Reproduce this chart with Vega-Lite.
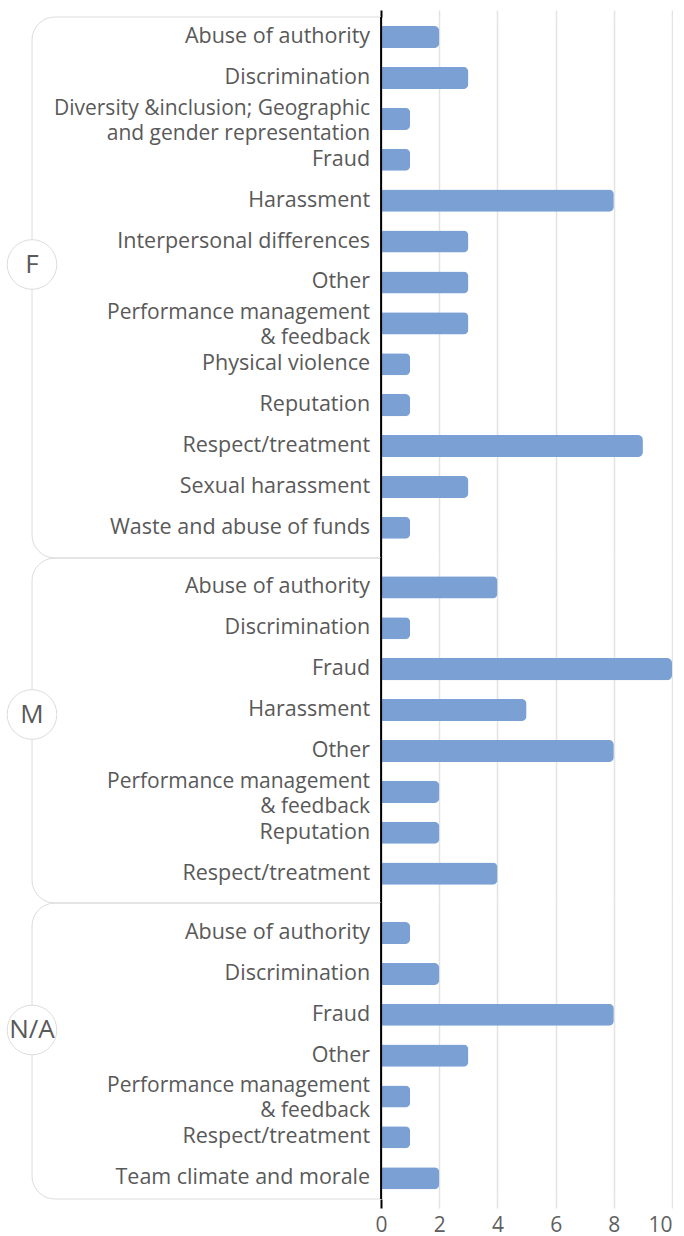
{
  "$schema": "https://vega.github.io/schema/vega-lite/v6.json",
  "padding": {"top": 9, "left": 0, "right": 0, "bottom": 0},
  "background": "white",
  "bounds": "flush",
  "config": {
    "view": {"stroke": null},
    "font": "Open Sans",
    "axis": {"gridColor": "#e3e3e3", "gridWidth": 1.5, "labelFont": "Open Sans", "labelColor": "#5f5f5f"}
  },
  "datasets": {
    "rows": [
      {"group": "F", "label": "Abuse of authority", "value": 2},
      {"group": "F", "label": "Discrimination", "value": 3},
      {"group": "F", "label": "Diversity &inclusion; Geographic\nand gender representation", "value": 1},
      {"group": "F", "label": "Fraud", "value": 1},
      {"group": "F", "label": "Harassment", "value": 8},
      {"group": "F", "label": "Interpersonal differences", "value": 3},
      {"group": "F", "label": "Other", "value": 3},
      {"group": "F", "label": "Performance management\n& feedback", "value": 3},
      {"group": "F", "label": "Physical violence", "value": 1},
      {"group": "F", "label": "Reputation", "value": 1},
      {"group": "F", "label": "Respect/treatment", "value": 9},
      {"group": "F", "label": "Sexual harassment", "value": 3},
      {"group": "F", "label": "Waste and abuse of funds", "value": 1},
      {"group": "M", "label": "Abuse of authority", "value": 4},
      {"group": "M", "label": "Discrimination", "value": 1},
      {"group": "M", "label": "Fraud", "value": 10},
      {"group": "M", "label": "Harassment", "value": 5},
      {"group": "M", "label": "Other", "value": 8},
      {"group": "M", "label": "Performance management\n& feedback", "value": 2},
      {"group": "M", "label": "Reputation", "value": 2},
      {"group": "M", "label": "Respect/treatment", "value": 4},
      {"group": "N/A", "label": "Abuse of authority", "value": 1},
      {"group": "N/A", "label": "Discrimination", "value": 2},
      {"group": "N/A", "label": "Fraud", "value": 8},
      {"group": "N/A", "label": "Other", "value": 3},
      {"group": "N/A", "label": "Performance management\n& feedback", "value": 1},
      {"group": "N/A", "label": "Respect/treatment", "value": 1},
      {"group": "N/A", "label": "Team climate and morale", "value": 2}
    ]
  },
  "spacing": 0,
  "resolve": {"scale": {"y": "independent"}},
  "vconcat": [
    {
      "width": 672,
      "height": 541,
      "layer": [
        {
          "data": {"values": [{"group": "F"}]},
          "mark": {"type": "rect", "fill": "transparent", "stroke": "#dcdcdc", "strokeWidth": 1, "cornerRadiusTopLeft": 23, "cornerRadiusBottomLeft": 23},
          "encoding": {"x": {"datum": -12, "type": "quantitative", "scale": {"domain": [-13.1, 10]}}, "x2": {"datum": 0}}
        },
        {
          "data": {"name": "rows"},
          "transform": [{"filter": "datum.group === 'F'"}],
          "mark": {"type": "bar", "color": "#7ba0d4", "cornerRadiusEnd": 5},
          "encoding": {
            "y": {"field": "label", "type": "nominal", "sort": null, "axis": null, "scale": {"paddingInner": 0.46, "paddingOuter": 0.344, "align": 0.32}},
            "x": {"field": "value", "type": "quantitative", "scale": {"domain": [-13.1, 10], "nice": false, "zero": false},
              "axis": {"orient": "top", "values": [0, 2, 4, 6, 8, 10], "labels": false, "domain": false, "ticks": true, "tickSize": 7,
                "tickColor": {"condition": {"test": "datum.value === 0", "value": "black"}, "value": "#e3e3e3"},
                "tickWidth": {"condition": {"test": "datum.value === 0", "value": 2}, "value": 1.5},
                "grid": true, "title": null}}
          }
        },
        {
          "data": {"name": "rows"},
          "transform": [{"filter": "datum.group === 'F' && indexof(datum.label, '\\n') < 0"}],
          "mark": {"type": "text", "align": "right", "baseline": "middle", "dx": -11, "fontSize": 21.5, "color": "#595959"},
          "encoding": {
            "y": {"field": "label", "type": "nominal", "sort": null},
            "x": {"datum": 0},
            "text": {"field": "label"}
          }
        },
        {
          "data": {"name": "rows"},
          "transform": [{"filter": "datum.group === 'F' && indexof(datum.label, '\\n') >= 0"}],
          "mark": {"type": "text", "align": "right", "baseline": "middle", "dx": -11, "dy": -10, "fontSize": 21, "color": "#595959", "lineBreak": "\n", "lineHeight": 25},
          "encoding": {
            "y": {"field": "label", "type": "nominal", "sort": null},
            "x": {"datum": 0},
            "text": {"field": "label"}
          }
        },
        {
          "data": {"values": [{"group": "F"}]},
          "mark": {"type": "rule", "color": "black", "strokeWidth": 2},
          "encoding": {"x": {"datum": 0}}
        },
        {
          "data": {"values": [{"group": "F"}]},
          "mark": {"type": "point", "shape": "circle", "filled": true, "fill": "white", "stroke": "#dcdcdc", "strokeWidth": 1, "size": 2463, "opacity": 1, "yOffset": -23},
          "encoding": {"x": {"datum": -12}}
        },
        {
          "data": {"values": [{"group": "F"}]},
          "mark": {"type": "text", "fontSize": 26, "color": "#595959", "align": "center", "baseline": "middle", "yOffset": -23},
          "encoding": {"x": {"datum": -12}, "text": {"field": "group"}}
        }
      ]
    },
    {
      "width": 672,
      "height": 345,
      "layer": [
        {
          "data": {"values": [{"group": "M"}]},
          "mark": {"type": "rect", "fill": "transparent", "stroke": "#dcdcdc", "strokeWidth": 1, "cornerRadiusTopLeft": 23, "cornerRadiusBottomLeft": 23},
          "encoding": {"x": {"datum": -12, "type": "quantitative", "scale": {"domain": [-13.1, 10]}}, "x2": {"datum": 0}}
        },
        {
          "data": {"name": "rows"},
          "transform": [{"filter": "datum.group === 'M'"}],
          "mark": {"type": "bar", "color": "#7ba0d4", "cornerRadiusEnd": 5},
          "encoding": {
            "y": {"field": "label", "type": "nominal", "sort": null, "axis": null, "scale": {"paddingInner": 0.46, "paddingOuter": 0.448, "align": 0.5}},
            "x": {"field": "value", "type": "quantitative", "scale": {"domain": [-13.1, 10], "nice": false, "zero": false},
              "axis": {"values": [0, 2, 4, 6, 8, 10], "labels": false, "domain": false, "ticks": false, "grid": true, "title": null}}
          }
        },
        {
          "data": {"name": "rows"},
          "transform": [{"filter": "datum.group === 'M' && indexof(datum.label, '\\n') < 0"}],
          "mark": {"type": "text", "align": "right", "baseline": "middle", "dx": -11, "fontSize": 21.5, "color": "#595959"},
          "encoding": {
            "y": {"field": "label", "type": "nominal", "sort": null},
            "x": {"datum": 0},
            "text": {"field": "label"}
          }
        },
        {
          "data": {"name": "rows"},
          "transform": [{"filter": "datum.group === 'M' && indexof(datum.label, '\\n') >= 0"}],
          "mark": {"type": "text", "align": "right", "baseline": "middle", "dx": -11, "dy": -10, "fontSize": 21, "color": "#595959", "lineBreak": "\n", "lineHeight": 25},
          "encoding": {
            "y": {"field": "label", "type": "nominal", "sort": null},
            "x": {"datum": 0},
            "text": {"field": "label"}
          }
        },
        {
          "data": {"values": [{"group": "M"}]},
          "mark": {"type": "rule", "color": "black", "strokeWidth": 2},
          "encoding": {"x": {"datum": 0}}
        },
        {
          "data": {"values": [{"group": "M"}]},
          "mark": {"type": "point", "shape": "circle", "filled": true, "fill": "white", "stroke": "#dcdcdc", "strokeWidth": 1, "size": 2463, "opacity": 1, "yOffset": -16},
          "encoding": {"x": {"datum": -12}}
        },
        {
          "data": {"values": [{"group": "M"}]},
          "mark": {"type": "text", "fontSize": 26, "color": "#595959", "align": "center", "baseline": "middle", "yOffset": -16},
          "encoding": {"x": {"datum": -12}, "text": {"field": "group"}}
        }
      ]
    },
    {
      "width": 672,
      "height": 296,
      "layer": [
        {
          "data": {"values": [{"group": "N/A"}]},
          "mark": {"type": "rect", "fill": "transparent", "stroke": "#dcdcdc", "strokeWidth": 1, "cornerRadiusTopLeft": 23, "cornerRadiusBottomLeft": 23},
          "encoding": {"x": {"datum": -12, "type": "quantitative", "scale": {"domain": [-13.1, 10]}}, "x2": {"datum": 0}}
        },
        {
          "data": {"name": "rows"},
          "transform": [{"filter": "datum.group === 'N/A'"}],
          "mark": {"type": "bar", "color": "#7ba0d4", "cornerRadiusEnd": 5},
          "encoding": {
            "y": {"field": "label", "type": "nominal", "sort": null, "axis": null, "scale": {"paddingInner": 0.46, "paddingOuter": 0.353, "align": 0.66}},
            "x": {"field": "value", "type": "quantitative", "scale": {"domain": [-13.1, 10], "nice": false, "zero": false},
              "axis": {"orient": "bottom", "values": [0, 2, 4, 6, 8, 10], "domain": false, "ticks": true, "tickSize": 9,
                "tickColor": {"condition": {"test": "datum.value === 0", "value": "black"}, "value": "#e3e3e3"},
                "tickWidth": {"condition": {"test": "datum.value === 0", "value": 2}, "value": 1.5},
                "labelFontSize": 21, "labelPadding": 6, "labelColor": "#5f5f5f",
                "grid": true, "title": null}}
          }
        },
        {
          "data": {"name": "rows"},
          "transform": [{"filter": "datum.group === 'N/A' && indexof(datum.label, '\\n') < 0"}],
          "mark": {"type": "text", "align": "right", "baseline": "middle", "dx": -11, "fontSize": 21.5, "color": "#595959"},
          "encoding": {
            "y": {"field": "label", "type": "nominal", "sort": null},
            "x": {"datum": 0},
            "text": {"field": "label"}
          }
        },
        {
          "data": {"name": "rows"},
          "transform": [{"filter": "datum.group === 'N/A' && indexof(datum.label, '\\n') >= 0"}],
          "mark": {"type": "text", "align": "right", "baseline": "middle", "dx": -11, "dy": -10, "fontSize": 21, "color": "#595959", "lineBreak": "\n", "lineHeight": 25},
          "encoding": {
            "y": {"field": "label", "type": "nominal", "sort": null},
            "x": {"datum": 0},
            "text": {"field": "label"}
          }
        },
        {
          "data": {"values": [{"group": "N/A"}]},
          "mark": {"type": "rule", "color": "black", "strokeWidth": 2},
          "encoding": {"x": {"datum": 0}}
        },
        {
          "data": {"values": [{"group": "N/A"}]},
          "mark": {"type": "point", "shape": "circle", "filled": true, "fill": "white", "stroke": "#dcdcdc", "strokeWidth": 1, "size": 2463, "opacity": 1, "yOffset": -21},
          "encoding": {"x": {"datum": -12}}
        },
        {
          "data": {"values": [{"group": "N/A"}]},
          "mark": {"type": "text", "fontSize": 26, "color": "#595959", "align": "center", "baseline": "middle", "yOffset": -21},
          "encoding": {"x": {"datum": -12}, "text": {"field": "group"}}
        }
      ]
    }
  ]
}
